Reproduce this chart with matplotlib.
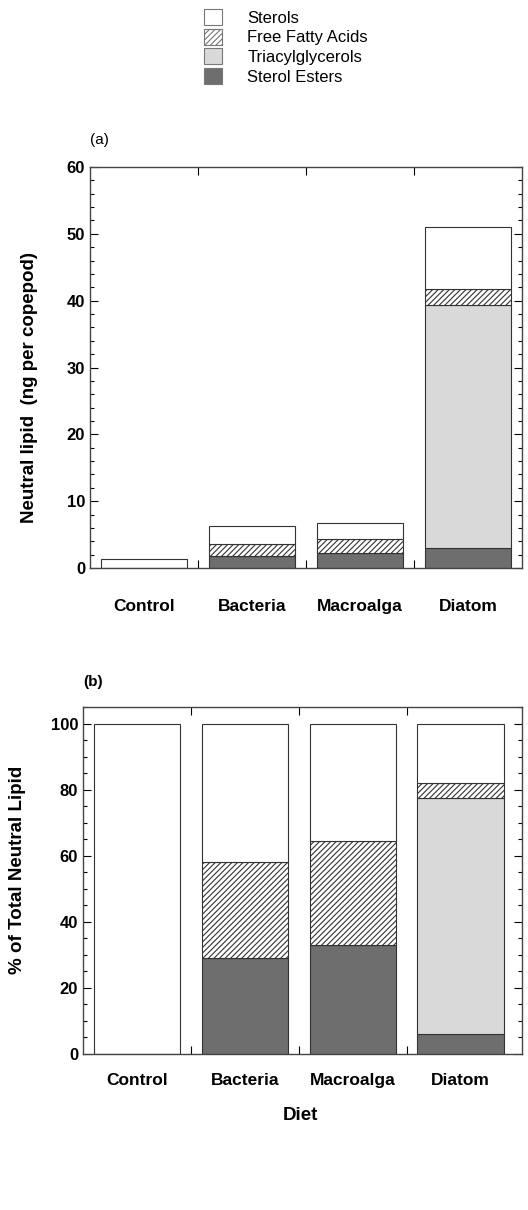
import numpy as np
import matplotlib.pyplot as plt
from matplotlib.patches import Patch
from matplotlib.ticker import MultipleLocator, FixedLocator

plt.rcParams['font.family'] = ['Liberation Sans', 'DejaVu Sans']
plt.rcParams['hatch.linewidth'] = 0.8

diets = ['Control', 'Bacteria', 'Macroalga', 'Diatom']
classes = ['Sterol Esters', 'Triacylglycerols', 'Free Fatty Acids', 'Sterols']

# (a) ng per copepod
se_a = [0.0, 1.8, 2.3, 3.0]
tag_a = [0.0, 0.0, 0.0, 36.3]
ffa_a = [0.0, 1.8, 2.0, 2.4]
st_a = [1.4, 2.7, 2.4, 9.3]

# (b) % of total neutral lipid
se_b = [0.0, 29.0, 33.0, 6.0]
tag_b = [0.0, 0.0, 0.0, 71.5]
ffa_b = [0.0, 29.0, 31.5, 4.5]
st_b = [100.0, 42.0, 35.5, 18.0]

styles = {
    'Sterol Esters': dict(facecolor='#6e6e6e', hatch=None),
    'Triacylglycerols': dict(facecolor='#d9d9d9', hatch=None),
    'Free Fatty Acids': dict(facecolor='white', hatch='//////'),
    'Sterols': dict(facecolor='white', hatch=None),
}
edge = '#333333'


def stacked(ax, series):
    x = np.arange(len(diets))
    bottom = np.zeros(len(diets))
    for name, vals in zip(classes, series):
        vals = np.array(vals)
        st = styles[name]
        ax.bar(x, vals, width=0.8, bottom=bottom, facecolor=st['facecolor'],
               hatch=st['hatch'], edgecolor=edge, linewidth=0.8)
        bottom = bottom + vals
    ax.set_xticks(x)
    ax.set_xticklabels(diets, fontsize=12.5, fontweight='bold')
    ax.xaxis.set_minor_locator(FixedLocator([0.5, 1.5, 2.5]))
    ax.tick_params(axis='x', which='major', length=0)
    ax.tick_params(axis='x', which='minor', direction='in', length=6,
                   top=True, bottom=True, width=0.8)
    ax.tick_params(axis='y', which='both', direction='in', left=True,
                   right=True, width=0.8, labelsize=12)
    ax.tick_params(axis='y', which='major', length=6)
    ax.tick_params(axis='y', which='minor', length=3)
    for lab in ax.get_yticklabels():
        lab.set_fontweight('bold')
    for s in ax.spines.values():
        s.set_linewidth(1.0)
        s.set_color('#444444')


fig = plt.figure(figsize=(5.28, 12.10), dpi=100)

# panel (a)
ax1 = fig.add_axes([90/528, 1-568/1210, 432/528, 401/1210])
ax1.set_xlim(-0.5, 3.5)
ax1.set_ylim(0, 60)
ax1.yaxis.set_major_locator(MultipleLocator(10))
ax1.yaxis.set_minor_locator(MultipleLocator(2))
stacked(ax1, [se_a, tag_a, ffa_a, st_a])
ax1.tick_params(axis='x', which='major', pad=22)
ax1.set_ylabel('Neutral lipid  (ng per copepod)', fontsize=13.5, fontweight='bold')
ax1.yaxis.set_label_coords(-0.12, 0.45)
fig.text(90/528, 1-140/1210, '(a)', fontsize=11, ha='left', va='center')

# panel (b)
ax2 = fig.add_axes([83/528, 1-1054/1210, 439/528, 347/1210])
ax2.set_xlim(-0.5, 3.57)
ax2.set_ylim(0, 105)
ax2.yaxis.set_major_locator(MultipleLocator(20))
ax2.yaxis.set_minor_locator(MultipleLocator(5))
stacked(ax2, [se_b, tag_b, ffa_b, st_b])
ax2.tick_params(axis='x', which='major', pad=14)
ax2.set_ylabel('% of Total Neutral Lipid', fontsize=13.5, fontweight='bold')
ax2.yaxis.set_label_coords(-0.13, 0.53)
fig.text(83/528, 1-682/1210, '(b)', fontsize=11, fontweight='bold',
         ha='left', va='center')
fig.text(300/528, 1-1115/1210, 'Diet', fontsize=13.5, fontweight='bold',
         ha='center', va='center')

# legend at top
handles = [Patch(facecolor=styles[n]['facecolor'], hatch=styles[n]['hatch'],
                 edgecolor='#777777', linewidth=0.8, label=n)
           for n in ['Sterols', 'Free Fatty Acids', 'Triacylglycerols', 'Sterol Esters']]
fig.legend(handles=handles, loc='upper left', bbox_to_anchor=(189/528, 1+6/1210),
           frameon=False, fontsize=12, handlelength=1.1, handleheight=1.1,
           labelspacing=0.18, handletextpad=1.5,
           prop={'size': 12, 'weight': 'medium'})

fig.savefig('out.png', dpi=100)
